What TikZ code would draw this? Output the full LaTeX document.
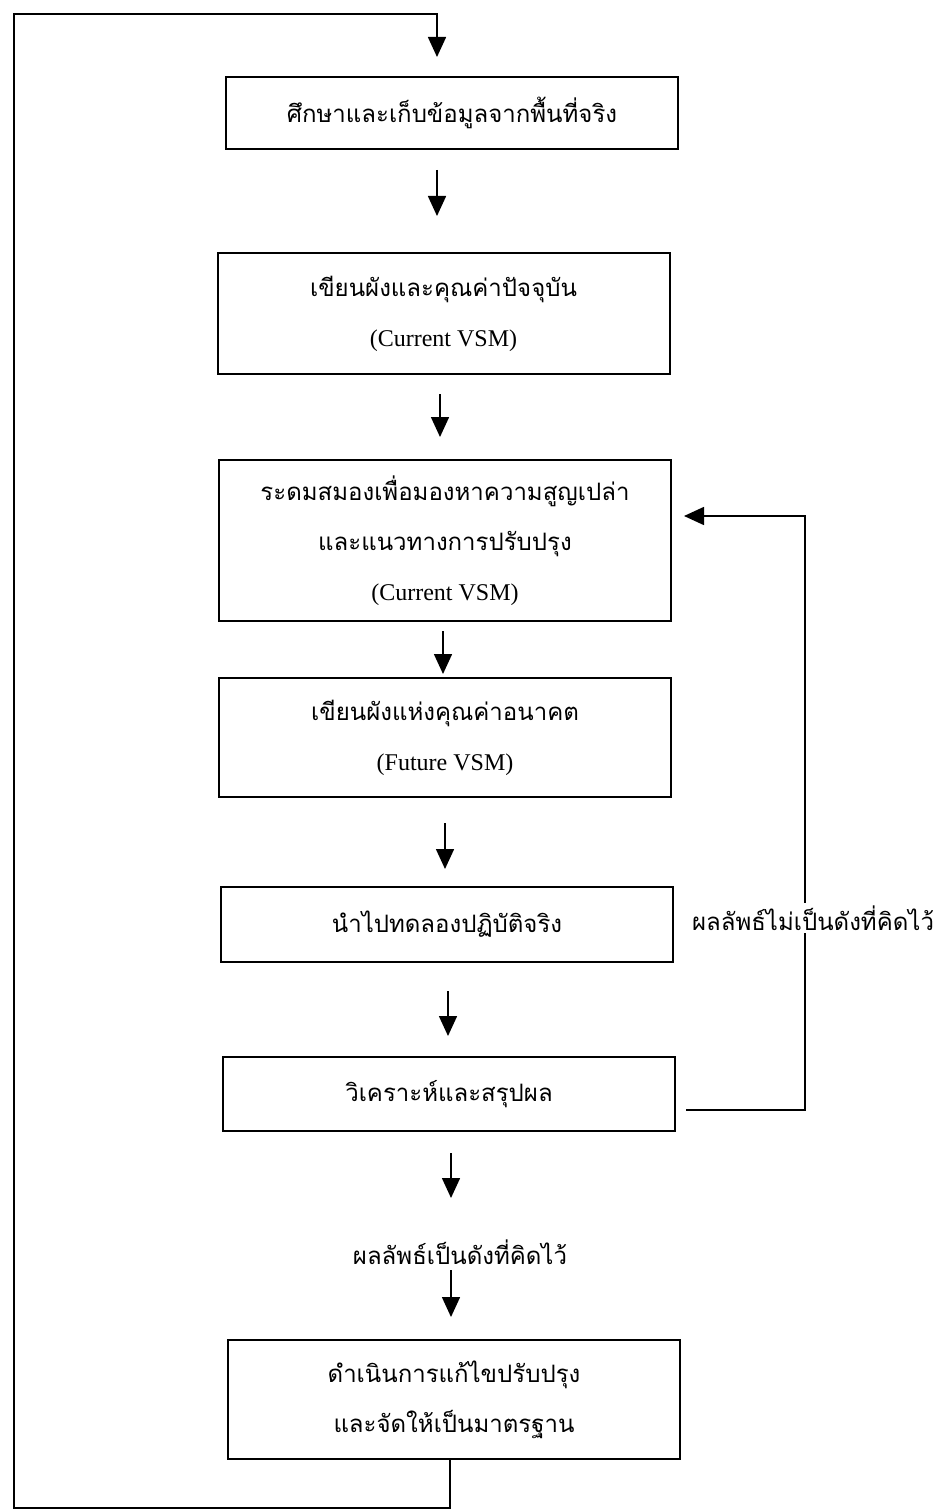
\documentclass[tikz,border=0pt]{standalone}
\usepackage{fontspec}
\setmainfont{Liberation Serif}
\newfontfamily\thai[Script=Thai]{Loma}
\usetikzlibrary{arrows.meta}

\begin{document}
\begin{tikzpicture}[x=1pt,y=-1pt,
  box/.style={draw, line width=2pt, minimum width=452pt, align=center,
    inner sep=0pt, font=\fontsize{24}{50}\selectfont},
  arr/.style={line width=1.6pt, -{Triangle[length=20pt,width=18pt]}},
  lab/.style={font=\fontsize{24}{30}\selectfont, inner sep=3pt}]
\useasboundingbox (0,0) rectangle (938,1511);

% process steps
\node[box, minimum height=72pt]  (b1) at (452,113)   {\thai ศึกษาและเก็บข้อมูลจากพื้นที่จริง};
\node[box, minimum height=121pt] (b2) at (443.5,313.5) {\thai เขียนผังและคุณค่าปัจจุบัน\\(Current VSM)};
\node[box, minimum height=161pt] (b3) at (445,540.5) {\thai ระดมสมองเพื่อมองหาความสูญเปล่า\\\thai และแนวทางการปรับปรุง\\(Current VSM)};
\node[box, minimum height=119pt] (b4) at (445,737.5) {\thai เขียนผังแห่งคุณค่าอนาคต\\(Future VSM)};
\node[box, minimum height=75pt]  (b5) at (447,924.5) {\thai นำไปทดลองปฏิบัติจริง};
\node[box, minimum height=74pt]  (b6) at (449,1094)  {\thai วิเคราะห์และสรุปผล};
\node[lab] (ok) at (460,1252) {\thai ผลลัพธ์เป็นดังที่คิดไว้};
\node[box, minimum height=119pt] (b7) at (454,1399.5) {\thai ดำเนินการแก้ไขปรับปรุง\\\thai และจัดให้เป็นมาตรฐาน};

% main flow
\draw[arr] ([shift={(-15,20)}]b1.south) -- ([shift={(-6.5,-36)}]b2.north);
\draw[arr] ([shift={(-3.5,19)}]b2.south) -- ([shift={(-5,-22)}]b3.north);
\draw[arr] ([shift={(-2,9)}]b3.south) -- ([shift={(-2,-3)}]b4.north);
\draw[arr] ([shift={(0,25)}]b4.south) -- ([shift={(-2,-17)}]b5.north);
\draw[arr] ([shift={(1,28)}]b5.south) -- ([shift={(-1,-20)}]b6.north);
\draw[arr] ([shift={(2,21)}]b6.south) -- ([shift={(-9,-54)}]ok.center);
\draw[arr] ([shift={(-9,18)}]ok.center) -- ([shift={(-3,-22)}]b7.north);

% feedback when the result is not as expected
\coordinate (fb) at (805,516);
\draw[arr] ([shift={(10,16)}]b6.east) -| (fb) -- ([shift={(12,-24.5)}]b3.east);
\node[lab, fill=white] (nok) at (813,918) {\thai ผลลัพธ์ไม่เป็นดังที่คิดไว้};

% return loop to the first step
\coordinate (lb) at (14,1508);
\coordinate (lt) at (14,14);
\draw[arr] ([shift={(-4,0)}]b7.south) |- (lb) -- (lt) -| ([shift={(-15,-19)}]b1.north);
\end{tikzpicture}
\end{document}
